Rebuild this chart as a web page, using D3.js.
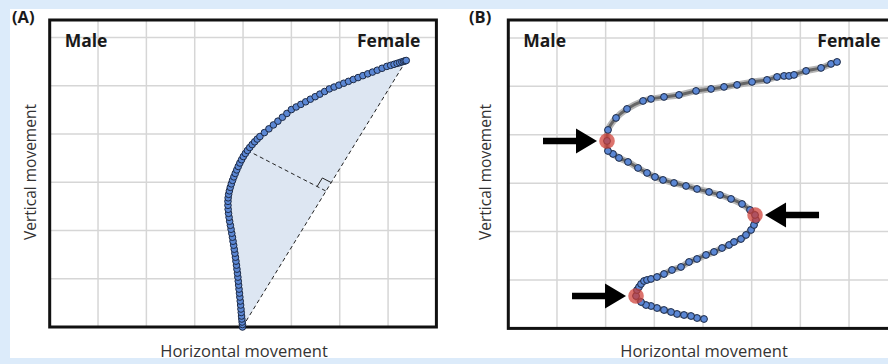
<!DOCTYPE html>
<html><head><meta charset="utf-8">
<script src="https://cdn.jsdelivr.net/npm/d3@7"></script>
<style>body{margin:0;background:#dcebfa}svg{display:block}</style>
</head><body>
<svg id="c" width="888" height="364"></svg>
<script>
// ---------- data (grid cell = 10 units) ----------
const panelNames = ["(A)", "(B)"];
const endLabels = ["Male", "Female"];
const xTitle = "Horizontal movement";
const yTitle = "Vertical movement";
const gridXTicks = [10, 20, 30, 40, 50, 60, 70];
const gridYTicks = [10, 20, 30, 40, 50, 60];

// Panel A trajectory (bottom start -> female end)
const aX = [39.88,39.88,39.81,39.75,39.69,39.63,39.57,39.50,39.42,39.34,39.26,39.17,39.09,39.01,38.93,38.84,38.74,38.64,38.53,38.43,
  38.31,38.18,38.06,37.93,37.81,37.67,37.52,37.38,37.23,37.11,37.00,36.92,36.88,36.88,36.92,37.02,37.17,37.36,37.58,37.83,
  38.10,38.39,38.70,39.01,39.34,39.69,40.06,40.48,40.91,41.38,41.88,42.40,42.93,43.49,44.42,45.35,46.28,47.21,48.14,49.07,
  50.00,50.99,51.96,52.95,53.93,54.92,55.89,56.88,57.85,58.84,59.83,60.83,61.82,62.81,63.80,64.79,65.79,66.78,67.77,68.76,
  69.75,70.54,71.24,71.86,72.40,72.85,73.22,73.51,73.76];
const aY = [0.00,0.52,1.03,1.65,2.27,3.00,3.72,4.55,5.37,6.20,7.02,7.85,8.68,9.50,10.33,11.16,11.98,12.81,13.64,14.46,
  15.29,16.12,16.94,17.77,18.60,19.42,20.25,21.07,21.90,22.73,23.55,24.38,25.21,26.03,26.76,27.48,28.20,28.93,29.65,30.37,
  31.10,31.82,32.54,33.26,33.97,34.65,35.31,35.95,36.57,37.19,37.79,38.37,38.93,39.46,40.27,41.05,41.86,42.64,43.45,44.24,
  45.04,45.58,46.12,46.65,47.19,47.71,48.24,48.78,49.32,49.71,50.10,50.50,50.89,51.28,51.67,52.07,52.44,52.81,53.20,53.60,
  53.99,54.21,54.42,54.61,54.77,54.92,55.04,55.12,55.21];
const aPerpFromIndex = 48;      // curve point where the distance line starts
const aPerpFootFraction = 0.51; // where it meets the chord (fraction from start)

// Panel B trajectory (bottom start -> female end)
const bX = [40.21,38.77,37.54,36.10,34.66,33.43,31.99,30.55,29.32,28.29,27.27,26.24,26.44,26.85,27.27,27.88,28.50,29.32,30.55,31.99,
  33.63,35.48,37.13,38.77,40.62,42.26,43.91,45.35,46.37,47.81,48.84,49.87,50.48,50.89,50.69,49.66,48.02,45.76,43.50,41.24,
  38.77,36.51,34.05,31.79,30.14,28.50,26.65,24.59,22.74,21.51,20.48,20.28,20.48,22.13,24.39,27.68,29.32,31.99,35.07,38.57,
  41.65,44.32,46.99,50.07,53.15,55.21,56.65,57.67,58.70,61.17,64.25,66.30,67.54];
const bY = [1.94,2.15,2.56,2.77,2.98,3.39,3.80,4.21,4.63,4.83,5.45,6.69,7.93,8.55,9.17,9.79,10.00,10.21,10.62,11.24,
  12.07,12.69,13.72,14.34,15.17,15.79,16.61,17.23,17.85,18.47,19.30,20.33,21.36,22.40,23.43,24.46,25.70,26.74,27.56,28.18,
  28.80,29.42,30.04,30.66,31.28,32.11,33.14,34.38,35.21,36.03,36.65,38.72,40.99,43.47,45.33,46.98,47.40,47.81,48.22,49.05,
  49.46,49.88,50.29,50.91,51.32,51.94,52.15,52.15,52.36,53.18,53.80,54.63,55.04];
const bTurnIndex = [11, 34, 51];        // highlighted turning points
const bArrowDir = ["right", "left", "right"];

// ---------- drawing ----------
const svg = d3.select("#c");
svg.append("rect").attr("width", 888).attr("height", 364).attr("fill", "#dcebfa");
svg.append("rect").attr("x", 10).attr("y", 9).attr("width", 878).attr("height", 349).attr("fill", "#fff");

const panels = [
  { x: d3.scaleLinear().domain([0, 80]).range([49.7, 436.4]),
    y: d3.scaleLinear().domain([0, 63.6]).range([327, 20]), name: panelNames[0], lx: 12, tx: 36 },
  { x: d3.scaleLinear().domain([0, 80]).range([508.3, 897.7]),
    y: d3.scaleLinear().domain([0, 63.7]).range([328.4, 20]), name: panelNames[1], lx: 469, tx: 491 }
];

panels.forEach((p, i) => {
  const g = svg.append("g");
  const [x0, x1] = p.x.range(), [y0, y1] = p.y.range();
  g.selectAll(".vx").data(gridXTicks).join("line")
    .attr("x1", d => p.x(d)).attr("x2", d => p.x(d)).attr("y1", y1).attr("y2", y0)
    .attr("stroke", "#d6d6d6").attr("stroke-width", 1.5);
  g.selectAll(".hy").data(gridYTicks).join("line")
    .attr("y1", d => p.y(d)).attr("y2", d => p.y(d)).attr("x1", x0).attr("x2", x1)
    .attr("stroke", "#d6d6d6").attr("stroke-width", 1.5);
  g.append("rect").attr("x", x0).attr("y", y1).attr("width", x1 - x0).attr("height", y0 - y1)
    .attr("fill", "none").attr("stroke", "#111").attr("stroke-width", 3);
  svg.append("text").attr("x", p.lx).attr("y", 23).text(p.name)
    .attr("font-family", "Open Sans").attr("font-weight", 700).attr("font-size", 16.5).attr("fill", "#1a1a1a");
  svg.append("text").attr("x", x0 + 15).attr("y", 47).text(endLabels[0])
    .attr("font-family", "Open Sans").attr("font-weight", 700).attr("font-size", 17.5).attr("fill", "#1a1a1a");
  svg.append("text").attr("x", Math.min(x1, 898) - 16 - (i ? 1 : 0)).attr("y", 47).attr("text-anchor", "end").text(endLabels[1])
    .attr("font-family", "Open Sans").attr("font-weight", 700).attr("font-size", 17.5).attr("fill", "#1a1a1a");
  svg.append("text").attr("x", (x0 + x1) / 2 + 1).attr("y", 357).attr("text-anchor", "middle").text(xTitle)
    .attr("font-family", "Open Sans").attr("font-size", 16.5).attr("fill", "#333");
  svg.append("text").attr("transform", `translate(${p.tx},172) rotate(-90)`).attr("text-anchor", "middle").text(yTitle)
    .attr("font-family", "Open Sans").attr("font-size", 15.5).attr("fill", "#333");
});

// ----- Panel A -----
{
  const p = panels[0];
  const pts = aX.map((v, i) => [p.x(v), p.y(aY[i])]);
  svg.append("path").attr("d", d3.line()(pts) + "Z").attr("fill", "#dde6f2").attr("stroke", "none");
  const s = pts[0], e = pts[pts.length - 1];
  svg.append("line").attr("x1", s[0]).attr("y1", s[1]).attr("x2", e[0]).attr("y2", e[1])
    .attr("stroke", "#222").attr("stroke-width", 1).attr("stroke-dasharray", "4,3");
  const fromPt = pts[aPerpFromIndex];
  const f = [s[0] + (e[0] - s[0]) * aPerpFootFraction, s[1] + (e[1] - s[1]) * aPerpFootFraction];
  svg.append("line").attr("x1", fromPt[0]).attr("y1", fromPt[1]).attr("x2", f[0]).attr("y2", f[1])
    .attr("stroke", "#222").attr("stroke-width", 1).attr("stroke-dasharray", "4,3");
  const L = Math.hypot(e[0] - s[0], e[1] - s[1]), ux = (e[0] - s[0]) / L, uy = (e[1] - s[1]) / L;
  const M = Math.hypot(fromPt[0] - f[0], fromPt[1] - f[1]), nx = (fromPt[0] - f[0]) / M, ny = (fromPt[1] - f[1]) / M, k = 10;
  svg.append("path").attr("d", `M${f[0] + nx * k},${f[1] + ny * k}L${f[0] + nx * k + ux * k},${f[1] + ny * k + uy * k}L${f[0] + ux * k},${f[1] + uy * k}`)
    .attr("fill", "none").attr("stroke", "#222").attr("stroke-width", 1);
  svg.append("g").selectAll("circle").data(pts).join("circle")
    .attr("cx", d => d[0]).attr("cy", d => d[1]).attr("r", 3.3)
    .attr("fill", "#5b87d4").attr("stroke", "#1d2a45").attr("stroke-width", 1);
}

// ----- Panel B -----
{
  const p = panels[1];
  const pts = bX.map((v, i) => [p.x(v), p.y(bY[i])]);
  const ln = d3.line().curve(d3.curveCatmullRom)(pts);
  svg.append("path").attr("d", ln).attr("fill", "none")
    .attr("stroke", "#b5b5b5").attr("stroke-width", 6.5).attr("stroke-linejoin", "round");
  svg.append("path").attr("d", ln).attr("fill", "none")
    .attr("stroke", "#666").attr("stroke-width", 3).attr("stroke-linejoin", "round");
  svg.append("g").selectAll("circle").data(pts).join("circle")
    .attr("cx", d => d[0]).attr("cy", d => d[1]).attr("r", 3.4)
    .attr("fill", "#5b87d4").attr("stroke", "#1d2a45").attr("stroke-width", 1);
  bTurnIndex.forEach((idx, j) => {
    const [cx, cy] = pts[idx];
    svg.append("circle").attr("cx", cx).attr("cy", cy).attr("r", 7.8)
      .attr("fill", "#cf3d35").attr("fill-opacity", 0.72);
    const dir = bArrowDir[j] === "right" ? 1 : -1;
    const tip = cx - dir * 10, base = tip - dir * 21, tail = tip - dir * 54;
    const h = 12.5, w = 3.2;
    svg.append("path").attr("d",
      `M${tip},${cy}L${base},${cy - h}L${base},${cy - w}L${tail},${cy - w}L${tail},${cy + w}L${base},${cy + w}L${base},${cy + h}Z`)
      .attr("fill", "#000");
  });
}
</script>
</body></html>
